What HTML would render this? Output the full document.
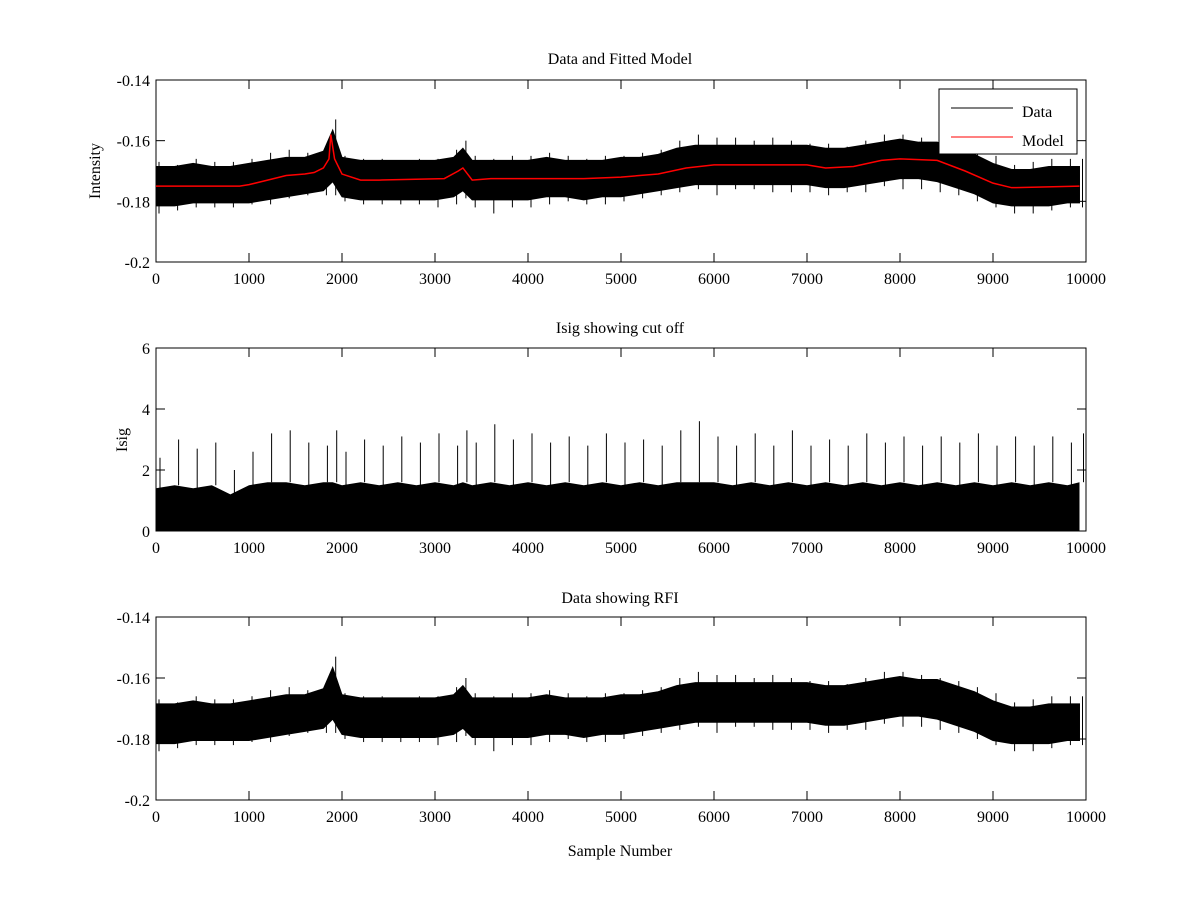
<!DOCTYPE html>
<html><head><meta charset="utf-8"><style>
body{margin:0;background:#fff}
svg{display:block;font-family:"Liberation Serif",serif;font-size:16px}
</style></head><body>
<svg id="fig" width="1200" height="900" xmlns="http://www.w3.org/2000/svg">
<rect width="1200" height="900" fill="#fff"/>
<g id="p1"></g>
<g id="p2"></g>
<g id="p3"></g>
<text x="620" y="64" text-anchor="middle">Data and Fitted Model</text>
<text x="620" y="333" text-anchor="middle">Isig showing cut off</text>
<text x="620" y="603" text-anchor="middle">Data showing RFI</text>
<text transform="translate(100,171) rotate(-90)" text-anchor="middle">Intensity</text>
<text transform="translate(127,440) rotate(-90)" text-anchor="middle">Isig</text>
<text x="620" y="856" text-anchor="middle">Sample Number</text>
<g id="legend"></g>
</svg>
<script>
const sampleX=[0,200,400,600,800,1000,1200,1400,1600,1800,1900,2000,2200,2400,2600,2800,3000,3200,3300,3400,3600,3800,4000,4200,4400,4600,4800,5000,5200,5400,5600,5800,6000,6200,6400,6600,6800,7000,7200,7400,7600,7800,8000,8200,8400,8600,8800,9000,9200,9400,9600,9800,9930];
const dataUpper=[-0.167,-0.168,-0.166,-0.167,-0.167,-0.166,-0.164,-0.163,-0.164,-0.162,-0.153,-0.165,-0.166,-0.166,-0.167,-0.166,-0.166,-0.163,-0.160,-0.165,-0.166,-0.165,-0.165,-0.164,-0.165,-0.166,-0.165,-0.165,-0.164,-0.163,-0.160,-0.158,-0.159,-0.159,-0.160,-0.159,-0.160,-0.161,-0.161,-0.162,-0.160,-0.158,-0.158,-0.159,-0.160,-0.161,-0.163,-0.165,-0.168,-0.167,-0.166,-0.166,-0.166];
const dataLower=[-0.184,-0.183,-0.182,-0.182,-0.182,-0.181,-0.181,-0.179,-0.178,-0.178,-0.178,-0.180,-0.181,-0.181,-0.181,-0.181,-0.182,-0.181,-0.179,-0.182,-0.184,-0.182,-0.182,-0.181,-0.180,-0.181,-0.181,-0.180,-0.179,-0.178,-0.177,-0.176,-0.178,-0.176,-0.176,-0.177,-0.177,-0.177,-0.178,-0.177,-0.177,-0.175,-0.176,-0.176,-0.177,-0.178,-0.180,-0.182,-0.184,-0.184,-0.183,-0.182,-0.182];
const coreUpper=[-0.1685,-0.1685,-0.1675,-0.1685,-0.1685,-0.1675,-0.1665,-0.1655,-0.1655,-0.1635,-0.1565,-0.1655,-0.1665,-0.1665,-0.1665,-0.1665,-0.1665,-0.1655,-0.1625,-0.1665,-0.1665,-0.1665,-0.1665,-0.1655,-0.1665,-0.1665,-0.1665,-0.1655,-0.1655,-0.1645,-0.1625,-0.1615,-0.1615,-0.1615,-0.1615,-0.1615,-0.1615,-0.1615,-0.1625,-0.1625,-0.1615,-0.1605,-0.1595,-0.1605,-0.1605,-0.1625,-0.1645,-0.1675,-0.1695,-0.1695,-0.1685,-0.1685,-0.1685];
const coreLower=[-0.1815,-0.1815,-0.1805,-0.1805,-0.1805,-0.1805,-0.1795,-0.1785,-0.1775,-0.1765,-0.1735,-0.1785,-0.1795,-0.1795,-0.1795,-0.1795,-0.1795,-0.1785,-0.1765,-0.1795,-0.1795,-0.1795,-0.1795,-0.1785,-0.1785,-0.1795,-0.1785,-0.1785,-0.1775,-0.1765,-0.1755,-0.1745,-0.1745,-0.1745,-0.1745,-0.1745,-0.1745,-0.1745,-0.1755,-0.1755,-0.1745,-0.1735,-0.1725,-0.1725,-0.1735,-0.1755,-0.1775,-0.1805,-0.1815,-0.1815,-0.1815,-0.1805,-0.1805];
const modelX=[0,900,1000,1200,1400,1600,1700,1800,1860,1880,1920,2000,2200,2400,3100,3250,3300,3400,3600,4600,5000,5400,5700,6000,7000,7200,7500,7800,8000,8400,8700,9000,9200,9930];
const modelY=[-0.175,-0.175,-0.1745,-0.173,-0.1715,-0.171,-0.1705,-0.169,-0.166,-0.158,-0.166,-0.171,-0.173,-0.173,-0.1725,-0.170,-0.169,-0.173,-0.1725,-0.1725,-0.172,-0.171,-0.169,-0.168,-0.168,-0.169,-0.1685,-0.1665,-0.166,-0.1665,-0.170,-0.174,-0.1755,-0.175];
const isigDense=[1.4,1.5,1.4,1.5,1.2,1.5,1.6,1.6,1.5,1.6,1.6,1.5,1.6,1.5,1.6,1.5,1.6,1.5,1.6,1.5,1.6,1.5,1.6,1.5,1.6,1.5,1.6,1.5,1.6,1.5,1.6,1.6,1.6,1.5,1.6,1.5,1.6,1.5,1.6,1.5,1.6,1.5,1.6,1.5,1.6,1.5,1.6,1.5,1.6,1.5,1.6,1.5,1.6];
const isigPeak=[2.4,3.0,2.7,2.9,2.0,2.6,3.2,3.3,2.9,2.8,3.3,2.6,3.0,2.8,3.1,2.9,3.2,2.8,3.3,2.9,3.5,3.0,3.2,2.9,3.1,2.8,3.2,2.9,3.0,2.8,3.3,3.6,3.1,2.8,3.2,2.8,3.3,2.8,3.0,2.8,3.2,2.9,3.1,2.8,3.1,2.9,3.2,2.8,3.1,2.8,3.1,2.9,3.2];
const xTicks=[0,1000,2000,3000,4000,5000,6000,7000,8000,9000,10000];
const intensityTicks=[-0.2,-0.18,-0.16,-0.14];
const isigTicks=[0,2,4,6];

const NS='http://www.w3.org/2000/svg';
const L=156,R=1086;
const sx=v=>L+(v/10000)*(R-L);
function mk(parent,tag,attrs){const e=document.createElementNS(NS,tag);for(const k in attrs)e.setAttribute(k,attrs[k]);parent.appendChild(e);return e;}
function axes(g,top,bot,ymin,ymax,yt,name){
  const sy=v=>bot-(v-ymin)/(ymax-ymin)*(bot-top);
  const box=mk(g,'rect',{x:L,y:top,width:R-L,height:bot-top,fill:'none',stroke:'#000','stroke-width':1});
  
  
  xTicks.forEach(t=>{const x=sx(t);
    mk(g,'line',{x1:x,y1:bot,x2:x,y2:bot-9,stroke:'#000'});
    mk(g,'line',{x1:x,y1:top,x2:x,y2:top+9,stroke:'#000'});
    const tx=mk(g,'text',{x:x,y:bot+22,'text-anchor':'middle'});tx.textContent=t;
    
    
  });
  yt.forEach(t=>{const y=sy(t);
    mk(g,'line',{x1:L,y1:y,x2:L+9,y2:y,stroke:'#000'});
    mk(g,'line',{x1:R,y1:y,x2:R-9,y2:y,stroke:'#000'});
    const tx=mk(g,'text',{x:L-6,y:y+6,'text-anchor':'end'});tx.textContent=t;
    
    
  });
  return sy;
}
function band(g,sy,name){
  let pts=sampleX.map((x,i)=>sx(x)+','+sy(coreUpper[i]));
  for(let i=sampleX.length-1;i>=0;i--)pts.push(sx(sampleX[i])+','+sy(coreLower[i]));
  const p=mk(g,'polygon',{points:pts.join(' '),fill:'#000',stroke:'#000','stroke-width':1});
  
  
  sampleX.forEach((x,i)=>{
    const s=mk(g,'line',{x1:sx(x)+3,y1:sy(dataUpper[i]),x2:sx(x)+3,y2:sy(dataLower[i]),stroke:'#000','stroke-width':1});
    
    
  });
}
const p1=document.getElementById('p1');
const sy1=axes(p1,80,262,-0.2,-0.14,intensityTicks,'top');
band(p1,sy1,'data-series');
const ml=mk(p1,'polyline',{points:modelX.map((x,i)=>sx(x)+','+sy1(modelY[i])).join(' '),fill:'none',stroke:'#f00','stroke-width':1.5});



const lg=document.getElementById('legend');
mk(lg,'rect',{x:939,y:89,width:138,height:65,fill:'#fff',stroke:'#000','stroke-width':1});
mk(lg,'line',{x1:951,y1:108,x2:1013,y2:108,stroke:'#000'});
const t1=mk(lg,'text',{x:1022,y:117});t1.textContent='Data';


mk(lg,'line',{x1:951,y1:137,x2:1013,y2:137,stroke:'#f00'});
const t2=mk(lg,'text',{x:1022,y:146});t2.textContent='Model';



const p2=document.getElementById('p2');
const sy2=axes(p2,348,531,0,6,isigTicks,'middle');
let pts=[sx(sampleX[0])+','+sy2(0)];
sampleX.forEach((x,i)=>pts.push(sx(x)+','+sy2(isigDense[i])));
pts.push(sx(sampleX[sampleX.length-1])+','+sy2(0));
const ip=mk(p2,'polygon',{points:pts.join(' '),fill:'#000'});


sampleX.forEach((x,i)=>{
  const s=mk(p2,'line',{x1:sx(x)+4,y1:sy2(isigDense[i]),x2:sx(x)+4,y2:sy2(isigPeak[i]),stroke:'#000','stroke-width':1});
  
  
});

const p3=document.getElementById('p3');
const sy3=axes(p3,617,800,-0.2,-0.14,intensityTicks,'bottom');
band(p3,sy3,'rfi-data-series');
</script>
</body></html>
